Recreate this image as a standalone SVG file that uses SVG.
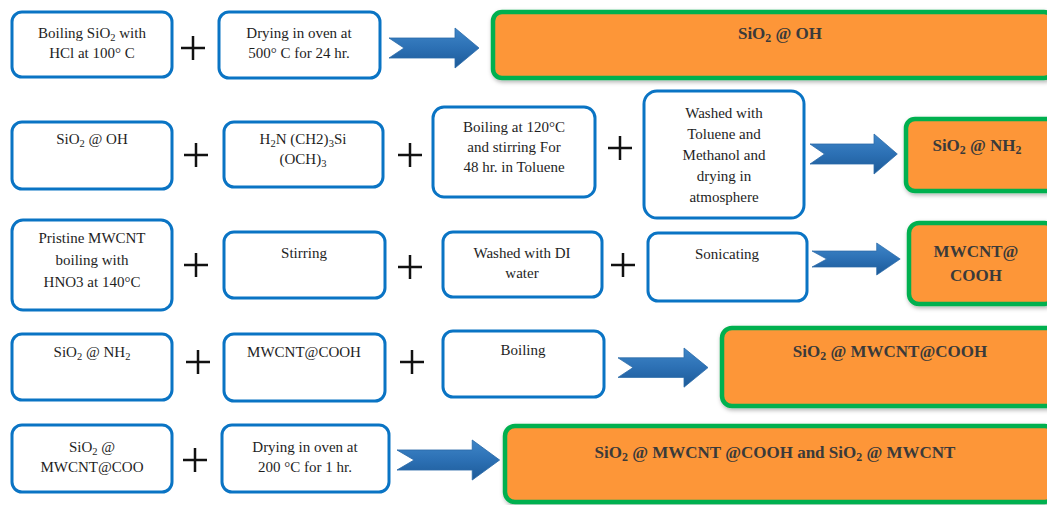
<svg xmlns="http://www.w3.org/2000/svg" width="1047" height="505" viewBox="0 0 1047 505">
<style>
.box{fill:#fff;stroke:#0a74c4;stroke-width:3}
.res{fill:#fd9638;stroke:#00b04f;stroke-width:4.5}
.t{font-family:"Liberation Serif","Times New Roman",serif;font-size:15px;fill:#1e1e1e;text-anchor:middle}
.rt{font-family:"Liberation Serif","Times New Roman",serif;font-size:17px;font-weight:bold;fill:#3a3a3a;text-anchor:middle}
.sub{font-size:70%;baseline-shift:-3px}
.plus{stroke:#111;stroke-width:2.5}
</style>
<defs>
<linearGradient id="ag" x1="0" y1="0" x2="0" y2="1">
<stop offset="0" stop-color="#3f86c8"/>
<stop offset="0.5" stop-color="#2c70b4"/>
<stop offset="1" stop-color="#1c5a98"/>
</linearGradient>
<path id="arr" d="M0,10 H66 V0 L90,20 L66,40 V30 H0 L15,20 Z" fill="url(#ag)" stroke="#2a6aa8" stroke-width="0.8"/>
<filter id="sh" x="-5%" y="-10%" width="110%" height="130%">
<feDropShadow dx="1" dy="2" stdDeviation="2" flood-color="#000" flood-opacity="0.3"/>
</filter>
</defs>

<g id="connectors">
<use href="#arr" transform="translate(389,28)"/>
<use href="#arr" transform="translate(810,134) scale(0.97,1)"/>
<use href="#arr" transform="translate(812,243) scale(0.98,0.8)"/>
<use href="#arr" transform="translate(618,348) scale(1,0.98)"/>
<use href="#arr" transform="translate(397,440) scale(1.14,1)"/>
<g class="plus">
<path d="M181,48 H205 M193,36 V60"/>
<path d="M184,155 H208 M196,143 V167"/>
<path d="M398,155 H422 M410,143 V167"/>
<path d="M608,148 H632 M620,136 V160"/>
<path d="M184,265 H208 M196,253 V277"/>
<path d="M398,267 H422 M410,255 V279"/>
<path d="M611,265 H635 M623,253 V277"/>
<path d="M186,362 H210 M198,350 V374"/>
<path d="M400,362 H424 M412,350 V374"/>
<path d="M183,460 H207 M195,448 V472"/>
</g>
</g>

<!-- Row 1 -->
<g id="r1a"><rect class="box" x="12" y="12" width="160" height="65" rx="10"/>
<text class="t" x="92" y="38">Boiling SiO<tspan class="sub">2</tspan> with</text>
<text class="t" x="92" y="58">HCl at 100° C</text></g>
<g id="r1b"><rect class="box" x="219" y="12" width="161" height="66" rx="10"/>
<text class="t" x="299" y="38">Drying in oven at</text>
<text class="t" x="299" y="58">500° C for 24 hr.</text></g>
<g id="r1res"><rect class="res" x="493" y="12" width="560" height="66" rx="9" filter="url(#sh)"/>
<text class="rt" x="780" y="39">SiO<tspan class="sub">2</tspan> @ OH</text></g>

<!-- Row 2 -->
<g id="r2a"><rect class="box" x="12" y="122" width="160" height="67" rx="10"/>
<text class="t" x="92" y="144">SiO<tspan class="sub">2</tspan> @ OH</text></g>
<g id="r2b"><rect class="box" x="224" y="122" width="159" height="65" rx="10"/>
<text class="t" x="303" y="144">H<tspan class="sub">2</tspan>N (CH2)<tspan class="sub">3</tspan>Si</text>
<text class="t" x="303" y="164">(OCH)<tspan class="sub">3</tspan></text></g>
<g id="r2c"><rect class="box" x="433" y="107" width="162" height="90" rx="11"/>
<text class="t" x="514" y="132">Boiling at 120°C</text>
<text class="t" x="514" y="152">and stirring For</text>
<text class="t" x="514" y="172">48 hr. in Toluene</text></g>
<g id="r2d"><rect class="box" x="644" y="91" width="160" height="127" rx="13"/>
<text class="t" x="724" y="118">Washed with</text>
<text class="t" x="724" y="139">Toluene and</text>
<text class="t" x="724" y="160">Methanol and</text>
<text class="t" x="724" y="181">drying in</text>
<text class="t" x="724" y="202">atmosphere</text></g>
<g id="r2res"><rect class="res" x="906" y="119" width="150" height="72" rx="9" filter="url(#sh)"/>
<text class="rt" x="977" y="151">SiO<tspan class="sub">2</tspan> @ NH<tspan class="sub">2</tspan></text></g>

<!-- Row 3 -->
<g id="r3a"><rect class="box" x="12" y="220" width="160" height="90" rx="11"/>
<text class="t" x="92" y="243">Pristine MWCNT</text>
<text class="t" x="92" y="265">boiling with</text>
<text class="t" x="92" y="287">HNO3 at 140°C</text></g>
<g id="r3b"><rect class="box" x="224" y="232" width="161" height="66" rx="10"/>
<text class="t" x="304" y="258">Stirring</text></g>
<g id="r3c"><rect class="box" x="443" y="232" width="159" height="65" rx="10"/>
<text class="t" x="522" y="258">Washed with DI</text>
<text class="t" x="522" y="278">water</text></g>
<g id="r3d"><rect class="box" x="648" y="233" width="159" height="68" rx="10"/>
<text class="t" x="727" y="259">Sonicating</text></g>
<g id="r3res"><rect class="res" x="909" y="223" width="146" height="81" rx="10" filter="url(#sh)"/>
<text class="rt" x="976" y="257">MWCNT@</text>
<text class="rt" x="976" y="281">COOH</text></g>

<!-- Row 4 -->
<g id="r4a"><rect class="box" x="12" y="334" width="160" height="66" rx="10"/>
<text class="t" x="92" y="357">SiO<tspan class="sub">2</tspan> @ NH<tspan class="sub">2</tspan></text></g>
<g id="r4b"><rect class="box" x="224" y="334" width="161" height="67" rx="10"/>
<text class="t" x="304" y="357">MWCNT@COOH</text></g>
<g id="r4c"><rect class="box" x="443" y="331" width="161" height="66" rx="10"/>
<text class="t" x="523" y="355">Boiling</text></g>
<g id="r4res"><rect class="res" x="722" y="328" width="335" height="78" rx="10" filter="url(#sh)"/>
<text class="rt" x="890" y="357">SiO<tspan class="sub">2</tspan> @ MWCNT@COOH</text></g>

<!-- Row 5 -->
<g id="r5a"><rect class="box" x="12" y="425" width="160" height="67" rx="10"/>
<text class="t" x="92" y="452">SiO<tspan class="sub">2</tspan> @</text>
<text class="t" x="92" y="472">MWCNT@COO</text></g>
<g id="r5b"><rect class="box" x="222" y="425" width="167" height="67" rx="10"/>
<text class="t" x="305" y="452">Drying in oven at</text>
<text class="t" x="305" y="472">200 °C for 1 hr.</text></g>
<g id="r5res"><rect class="res" x="505" y="426" width="550" height="76" rx="10" filter="url(#sh)"/>
<text class="rt" x="775" y="458">SiO<tspan class="sub">2</tspan> @ MWCNT @COOH and SiO<tspan class="sub">2</tspan> @ MWCNT</text></g>
</svg>
